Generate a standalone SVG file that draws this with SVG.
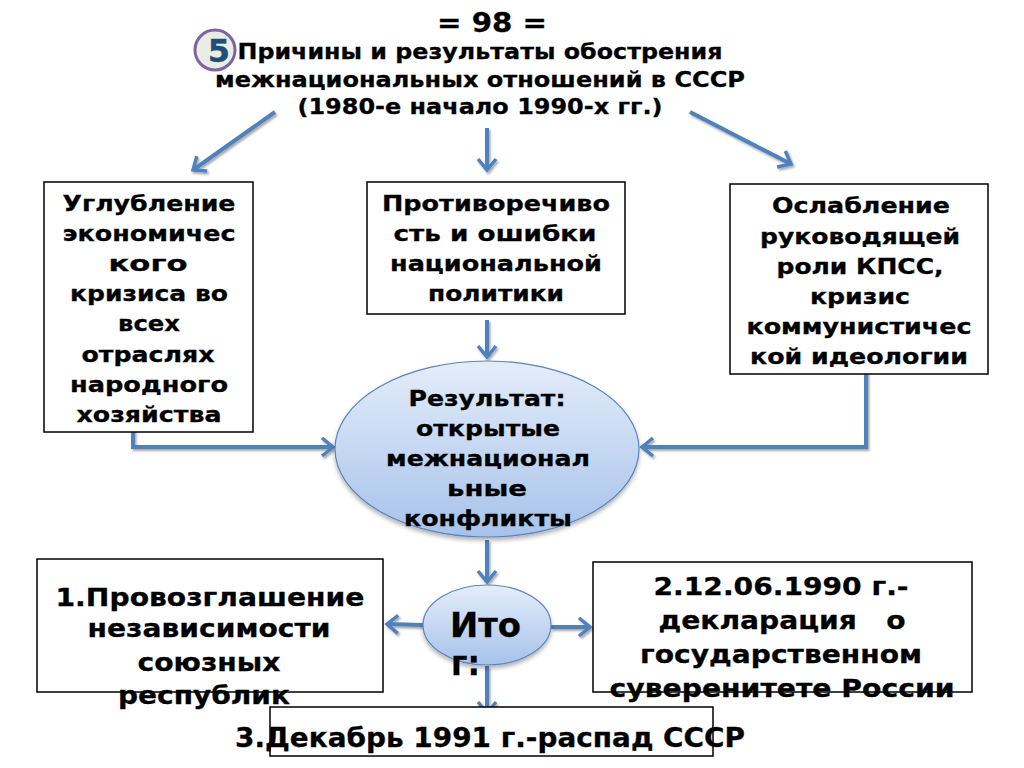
<svg xmlns="http://www.w3.org/2000/svg" width="1024" height="768" viewBox="0 0 1024 768">
<style>
text{font-family:"DejaVu Sans","Liberation Sans",sans-serif;font-weight:bold;fill:#000;stroke:#000;stroke-width:0.3;text-anchor:middle}
.t{font-size:22px}
.b{font-size:21px}
.l{font-size:25px}
.box{fill:#fff;stroke:#000;stroke-width:1.5}
.ell{fill:url(#g);stroke:#5b84c0;stroke-width:1.2}
.c{fill:none;stroke:#4f81bd;stroke-width:4;marker-end:url(#ah);filter:url(#sh)}
</style>
<defs>
<linearGradient id="g" x1="0" y1="0" x2="0" y2="1">
<stop offset="0" stop-color="#e4edfa"/>
<stop offset="1" stop-color="#a7c2ea"/>
</linearGradient>
<filter id="sh" filterUnits="userSpaceOnUse" x="0" y="0" width="1024" height="768">
<feDropShadow dx="1.5" dy="2" stdDeviation="1" flood-color="#000" flood-opacity="0.35"/>
</filter>
<filter id="esh" x="-10%" y="-10%" width="120%" height="130%">
<feDropShadow dx="0" dy="3" stdDeviation="2" flood-color="#000" flood-opacity="0.3"/>
</filter>
<marker id="ah" markerUnits="userSpaceOnUse" markerWidth="30" markerHeight="30" viewBox="-15 -15 30 30" refX="0" refY="0" orient="auto">
<path d="M-11,-9 L0,0 L-11,9" fill="none" stroke="#4f81bd" stroke-width="3.5"/>
</marker>
</defs>

<g id="title">
<text x="492" y="32" style="font-size:26px" textLength="110" lengthAdjust="spacingAndGlyphs">= 98 =</text>
<text class="t" x="480" y="59" textLength="485" lengthAdjust="spacingAndGlyphs">Причины и результаты обострения</text>
<text class="t" x="480" y="87" textLength="530" lengthAdjust="spacingAndGlyphs">межнациональных отношений в СССР</text>
<text class="t" x="480" y="114" textLength="365" lengthAdjust="spacingAndGlyphs">(1980-е начало 1990-х гг.)</text>
</g>

<g id="badge">
<circle cx="215" cy="50" r="20" fill="#e9ede4" stroke="#8064a2" stroke-width="3"/>
<text x="219" y="62" style="font-size:32px;fill:#1f4e79;stroke:#1f4e79">5</text>
</g>

<g id="connectors">
<path class="c" d="M275,112 L193,170"/>
<path class="c" d="M487,128 L487,170"/>
<path class="c" d="M690,112 L791,164"/>
<path class="c" d="M487,320 L487,357"/>
<path class="c" d="M133,408 L133,447 L333,447"/>
<path class="c" d="M866,358 L866,447 L642,447"/>
<path class="c" d="M487,540 L487,582"/>
<path class="c" d="M423,625 L387,624"/>
<path class="c" d="M551,627 L590,627"/>
<path class="c" d="M487,666 L487,713"/>
</g>

<g id="box-left">
<rect class="box" x="44" y="182" width="209" height="250"/>
<text class="b" x="149" y="211" textLength="173" lengthAdjust="spacingAndGlyphs">Углубление</text>
<text class="b" x="149" y="241" textLength="173" lengthAdjust="spacingAndGlyphs">экономичес</text>
<text class="b" x="148" y="271" textLength="79" lengthAdjust="spacingAndGlyphs">кого</text>
<text class="b" x="149" y="301" textLength="158" lengthAdjust="spacingAndGlyphs">кризиса во</text>
<text class="b" x="149" y="331" textLength="62" lengthAdjust="spacingAndGlyphs">всех</text>
<text class="b" x="148" y="362" textLength="133" lengthAdjust="spacingAndGlyphs">отраслях</text>
<text class="b" x="149" y="392" textLength="158" lengthAdjust="spacingAndGlyphs">народного</text>
<text class="b" x="149" y="422" textLength="145" lengthAdjust="spacingAndGlyphs">хозяйства</text>
</g>

<g id="box-mid">
<rect class="box" x="367" y="182" width="258" height="132"/>
<text class="b" x="496" y="211" textLength="228" lengthAdjust="spacingAndGlyphs">Противоречиво</text>
<text class="b" x="495" y="241" textLength="203" lengthAdjust="spacingAndGlyphs">сть и ошибки</text>
<text class="b" x="496" y="271" textLength="212" lengthAdjust="spacingAndGlyphs">национальной</text>
<text class="b" x="496" y="301" textLength="136" lengthAdjust="spacingAndGlyphs">политики</text>
</g>

<g id="box-right">
<rect class="box" x="730" y="184" width="258" height="190"/>
<text class="b" x="861" y="213" textLength="178" lengthAdjust="spacingAndGlyphs">Ослабление</text>
<text class="b" x="860" y="244" textLength="200" lengthAdjust="spacingAndGlyphs">руководящей</text>
<text class="b" x="860" y="274" textLength="167" lengthAdjust="spacingAndGlyphs">роли КПСС,</text>
<text class="b" x="860" y="304" textLength="100" lengthAdjust="spacingAndGlyphs">кризис</text>
<text class="b" x="859" y="334" textLength="225" lengthAdjust="spacingAndGlyphs">коммунистичес</text>
<text class="b" x="859" y="364" textLength="218" lengthAdjust="spacingAndGlyphs">кой идеологии</text>
</g>

<g id="result">
<ellipse class="ell" cx="487" cy="449" rx="152" ry="88" filter="url(#esh)"/>
<text class="b" x="487" y="406" textLength="157" lengthAdjust="spacingAndGlyphs">Результат:</text>
<text class="b" x="488" y="436" textLength="144" lengthAdjust="spacingAndGlyphs">открытые</text>
<text class="b" x="488" y="466" textLength="204" lengthAdjust="spacingAndGlyphs">межнационал</text>
<text class="b" x="487" y="496" textLength="80" lengthAdjust="spacingAndGlyphs">ьные</text>
<text class="b" x="488" y="526" textLength="168" lengthAdjust="spacingAndGlyphs">конфликты</text>
</g>

<g id="itog">
<ellipse class="ell" cx="487" cy="625" rx="64" ry="40" filter="url(#esh)"/>
<text x="450" y="637" style="font-size:33px;text-anchor:start" textLength="71" lengthAdjust="spacingAndGlyphs">Ито</text>
<text x="451" y="675" style="font-size:33px;text-anchor:start" textLength="29" lengthAdjust="spacingAndGlyphs">г:</text>
</g>

<g id="box-1">
<rect class="box" x="37" y="559" width="346" height="133"/>
<text class="l" x="210" y="606" textLength="309" lengthAdjust="spacingAndGlyphs">1.Провозглашение</text>
<text class="l" x="209" y="637" textLength="243" lengthAdjust="spacingAndGlyphs">независимости</text>
<text class="l" x="209" y="671" textLength="143" lengthAdjust="spacingAndGlyphs">союзных</text>
<text class="l" x="204" y="704" textLength="172" lengthAdjust="spacingAndGlyphs">республик</text>
</g>

<g id="box-2">
<rect class="box" x="593" y="562" width="379" height="130"/>
<text class="l" x="781" y="595" textLength="255" lengthAdjust="spacingAndGlyphs">2.12.06.1990 г.-</text>
<text class="l" x="782" y="629" textLength="247" lengthAdjust="spacingAndGlyphs" xml:space="preserve">декларация   о</text>
<text class="l" x="781" y="663" textLength="282" lengthAdjust="spacingAndGlyphs">государственном</text>
<text class="l" x="782" y="697" textLength="345" lengthAdjust="spacingAndGlyphs">суверенитете России</text>
</g>

<g id="box-3">
<rect class="box" x="270" y="707" width="443" height="49"/>
<text x="490" y="747" style="font-size:27px" textLength="510" lengthAdjust="spacingAndGlyphs">3.Декабрь 1991 г.-распад СССР</text>
</g>
</svg>
